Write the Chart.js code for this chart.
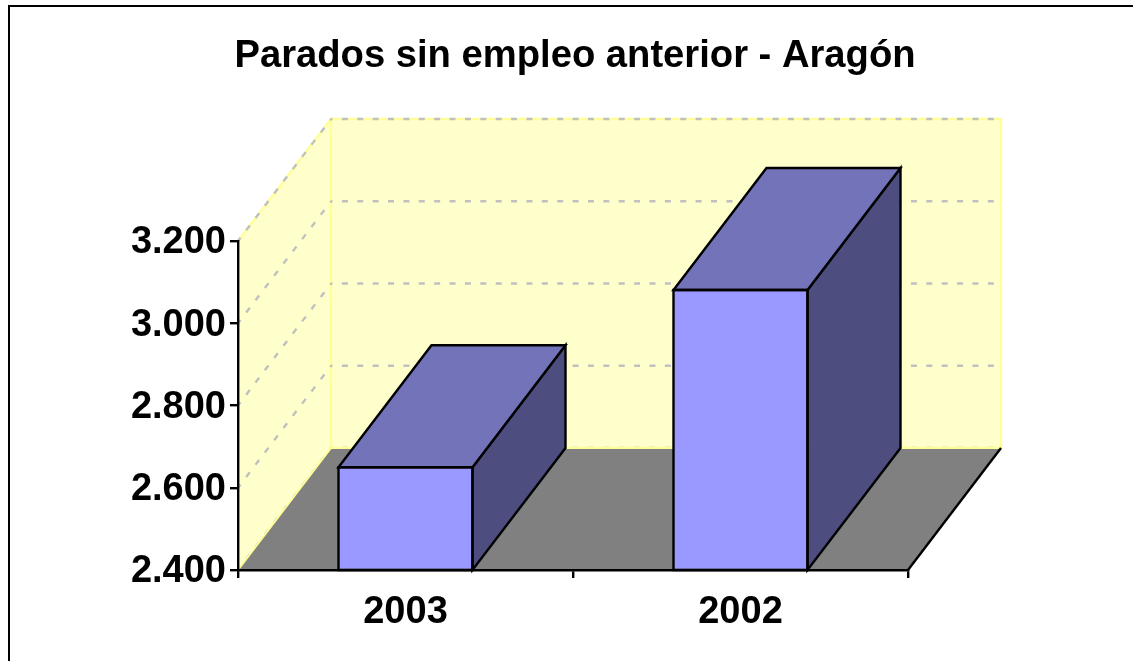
<!DOCTYPE html>
<html><head><meta charset="utf-8">
<style>html,body{margin:0;padding:0;background:#fff;overflow:hidden}#c{position:absolute;left:0;top:0;width:1133px;height:661px}</style>
<script src="https://cdn.jsdelivr.net/npm/chart.js@4/dist/chart.umd.min.js"></script>
</head><body><canvas id="c" width="1133" height="661"></canvas>
<script>
const categories = ['2003', '2002'];
const paradosValues = [2650, 3081];
const yTickValues = [2400, 2600, 2800, 3000, 3200];
const titleText = 'Parados sin empleo anterior - Aragón';

const depthX = 93, depthY = -122;
const fontFamily = '"Liberation Sans", Arial, sans-serif';
const inkWidth = 2.4;

function poly(ctx, pts, fill, stroke, lw) {
  ctx.beginPath();
  pts.forEach((p, i) => i ? ctx.lineTo(p[0], p[1]) : ctx.moveTo(p[0], p[1]));
  ctx.closePath();
  if (fill) { ctx.fillStyle = fill; ctx.fill(); }
  if (stroke) { ctx.strokeStyle = stroke; ctx.lineWidth = lw; ctx.lineJoin = 'miter'; ctx.stroke(); }
}

const frame3d = {
  id: 'frame3d',
  afterLayout(chart) {
    chart.titleBlock.left = 17;
    chart.titleBlock.right = 1133;
  },
  beforeDraw(chart) {
    const { ctx } = chart;
    ctx.save();
    ctx.fillStyle = '#000';
    ctx.fillRect(8, 5, 1125, 2);
    ctx.fillRect(8, 5, 2, 656);
    ctx.restore();
  },
  beforeDatasetsDraw(chart) {
    const { ctx, chartArea: a, scales: { y } } = chart;
    const L = a.left, R = a.right, T = a.top, B = a.bottom;
    const dx = depthX, dy = depthY;
    ctx.save();
    poly(ctx, [[L, T], [L + dx, T + dy], [L + dx, B + dy], [L, B]], '#ffffcc', null, 0);
    poly(ctx, [[L + dx, T + dy], [R + dx, T + dy], [R + dx, B + dy], [L + dx, B + dy]], '#ffffcc', '#ffff99', 2.4);
    ctx.strokeStyle = '#ffff99';
    ctx.lineWidth = 2.4;
    ctx.beginPath();
    ctx.moveTo(L, T); ctx.lineTo(L + dx, T + dy);
    ctx.stroke();
    ctx.strokeStyle = '#c0c0c0';
    ctx.lineWidth = 2.4;
    ctx.setLineDash([6, 9.38]);
    ctx.lineDashOffset = 4.5;
    yTickValues.forEach(v => {
      const py = y.getPixelForValue(v);
      ctx.beginPath();
      ctx.moveTo(L + dx, py + dy);
      ctx.lineTo(L, py);
      ctx.stroke();
      ctx.beginPath();
      ctx.moveTo(L + dx, py + dy);
      ctx.lineTo(R + dx - 7, py + dy);
      ctx.stroke();
    });
    ctx.setLineDash([]);
    poly(ctx, [[L, B], [L + dx, B + dy], [R + dx, B + dy], [R, B]], '#808080', null, 0);
    ctx.strokeStyle = '#ffff99';
    ctx.lineWidth = 2;
    ctx.beginPath();
    ctx.moveTo(L, B); ctx.lineTo(L + dx, B + dy); ctx.lineTo(R + dx, B + dy);
    ctx.stroke();
    ctx.strokeStyle = '#000';
    ctx.lineWidth = inkWidth;
    ctx.beginPath();
    ctx.moveTo(R, B); ctx.lineTo(R + dx, B + dy);
    ctx.stroke();
    ctx.restore();
  },
  afterDatasetsDraw(chart) {
    const { ctx, chartArea: a } = chart;
    const meta = chart.getDatasetMeta(0);
    const dx = depthX, dy = depthY;
    ctx.save();
    meta.data.forEach(bar => {
      const l = bar.x - bar.width / 2, r = bar.x + bar.width / 2, t = bar.y, b = a.bottom;
      poly(ctx, [[r, t], [r + dx, t + dy], [r + dx, b + dy], [r, b]], '#4d4d80', '#000', inkWidth);
      poly(ctx, [[l, t], [l + dx, t + dy], [r + dx, t + dy], [r, t]], '#7373b9', '#000', inkWidth);
      poly(ctx, [[l, t], [r, t], [r, b], [l, b]], null, '#000', inkWidth);
    });
    ctx.restore();
  }
};

new Chart(document.getElementById('c'), {
  type: 'bar',
  data: {
    labels: categories,
    datasets: [{
      data: paradosValues,
      base: 2400,
      backgroundColor: '#9999ff',
      borderWidth: 0,
      categoryPercentage: 0.4,
      barPercentage: 1
    }]
  },
  options: {
    responsive: false,
    animation: false,
    devicePixelRatio: 1,
    layout: { padding: { left: 0, right: 225, top: 0, bottom: 0 } },
    plugins: {
      legend: { display: false },
      tooltip: { enabled: false },
      title: {
        display: true,
        text: titleText,
        color: '#000',
        font: { family: fontFamily, size: 38.2, weight: 'bold', lineHeight: 1.2 },
        padding: { top: 34, bottom: 161.16 }
      }
    },
    scales: {
      x: {
        offset: true,
        border: { display: true, color: '#000', width: 2.4, z: 1 },
        grid: { display: true, drawOnChartArea: false, drawTicks: true, tickLength: 8, color: '#000', lineWidth: 2.4, z: 1 },
        ticks: {
          color: '#000', padding: 12, maxRotation: 0, z: 1,
          font: { family: fontFamily, size: 38, weight: 'bold' }
        },
        afterFit(axis) { axis.height = 91; }
      },
      y: {
        min: 2400, max: 3200,
        afterBuildTicks(axis) { axis.ticks = yTickValues.map(v => ({ value: v })); },
        border: { display: true, color: '#000', width: 2.4, z: 1 },
        grid: { display: true, drawOnChartArea: false, drawTicks: true, tickLength: 8, color: '#000', lineWidth: 2.4, z: 1 },
        ticks: {
          color: '#000', padding: 4, z: 1, labelOffset: 2,
          callback: v => String(v).replace(/(\d)(\d{3})$/, '$1.$2'),
          font: { family: fontFamily, size: 38, weight: 'bold' }
        },
        afterFit(axis) { axis.width = 238; }
      }
    }
  },
  plugins: [frame3d]
});
</script></body></html>
